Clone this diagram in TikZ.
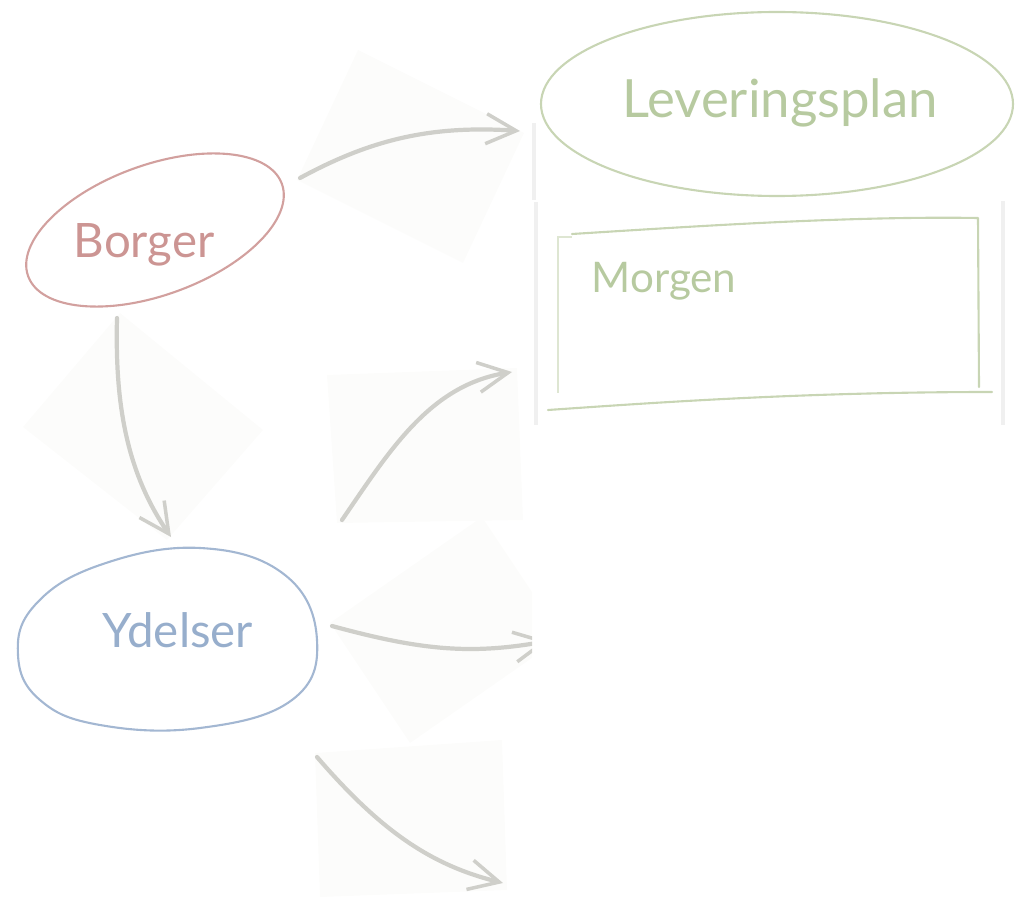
\documentclass[tikz,border=0pt]{standalone}
\usepackage{fontspec}
\setmainfont{Lato}
\usetikzlibrary{arrows.meta}
\definecolor{redpen}{HTML}{D2A09E}
\definecolor{redtxt}{HTML}{CC9593}
\definecolor{bluepen}{HTML}{A3B7D2}
\definecolor{bluetxt}{HTML}{97AECC}
\definecolor{greenpen}{HTML}{C8D5B4}
\definecolor{greentxt}{HTML}{B7CAA0}
\definecolor{arrowgrey}{HTML}{CFCFCA}
\definecolor{patch}{HTML}{FCFCFB}
\definecolor{edgegrey}{HTML}{F0F0F0}
\tikzset{
  patchfill/.style={fill=patch, draw=none},
  pen/.style={line width=1.2pt, line cap=round, line join=round},
  flow/.style={draw=arrowgrey, line width=2.4pt, line cap=round,
    -{Straight Barb[length=6mm, width=6mm, line width=2pt]}},
  label/.style={inner sep=0pt, anchor=base},
}
\begin{document}
\begin{tikzpicture}[x=0.02cm, y=-0.02cm]
\useasboundingbox (0,0) rectangle (1021,898);
% faint patches behind the connectors
\fill[patchfill] (297,180) -- (358,50) -- (524,133) -- (463,263) -- cycle;
\fill[patchfill] (23,427) -- (120,313) -- (263,430) -- (167,540) -- cycle;
\fill[patchfill] (327,375) -- (517,368) -- (523,520) -- (337,523) -- cycle;
\begin{scope}
  \clip (0,0) rectangle (532,898);
  \fill[patchfill] (330,623) -- (482,517) -- (562,637) -- (410,743) -- cycle;
\end{scope}
\fill[patchfill] (315,753) -- (502,740) -- (507,890) -- (320,897) -- cycle;
% faint panel edges
\draw[edgegrey, line width=1.8pt] (534,123) -- (534,200);
\draw[edgegrey, line width=1.8pt] (536,202) -- (536,425);
\draw[edgegrey, line width=1.8pt] (1003,201) -- (1003,425);
% Borger
\draw[redpen, pen, rotate around={20:(155,230)}] (155,230) ellipse [x radius=135, y radius=65];
\node[label, text=redtxt, font=\fontsize{27}{30}\selectfont] (borger) at (144,258) {Borger};
% Ydelser
\draw[bluepen, pen] plot[smooth cycle, tension=0.7] coordinates
  {(18,655) (35,605) (100,565) (200,548) (285,575) (317,640) (292,700) (200,728) (100,725) (40,700)};
\node[label, text=bluetxt, font=\fontsize{27}{30}\selectfont] (ydelser) at (178,647) {Ydelser};
% Leveringsplan
\draw[greenpen, pen] (777,104) ellipse [x radius=236, y radius=92];
\node[label, text=greentxt, font=\fontsize{30}{33}\selectfont] (plan) at (780,118) {Leveringsplan};
% Morgen box
\draw[greenpen, pen] (572,234) .. controls (700,226) and (850,216) .. (978,218) -- (979,387);
\draw[greenpen, pen] (548,410) .. controls (650,403) and (800,392) .. (992,392);
\draw[greenpen!60, line width=0.8pt] (557,237) -- (572,237) (558,237) -- (558,393);
\node[label, text=greentxt, font=\fontsize{24}{27}\selectfont] (morgen) at (664,293) {Morgen};
% connector end points
\coordinate (b1) at (300,178);
\coordinate (p1) at (520,131);
\coordinate (b2) at (117,318);
\coordinate (y2) at (171,537);
\coordinate (y3) at (342,520);
\coordinate (m3) at (512,372);
\coordinate (y4) at (332,626);
\coordinate (o4) at (548,641);
\coordinate (y5) at (317,757);
\coordinate (o5) at (503,883);
% connectors
\draw[flow] (b1) .. controls (370,140) and (430,125) .. (p1);
\draw[flow] (b2) .. controls (115,400) and (125,470) .. (y2);
\draw[flow] (y3) .. controls (390,450) and (430,385) .. (m3);
\begin{scope}
  \clip (0,0) rectangle (532,898);
  \draw[flow] (y4) .. controls (420,650) and (470,655) .. (o4);
\end{scope}
\draw[flow] (y5) .. controls (380,830) and (430,865) .. (o5);
\end{tikzpicture}
\end{document}
